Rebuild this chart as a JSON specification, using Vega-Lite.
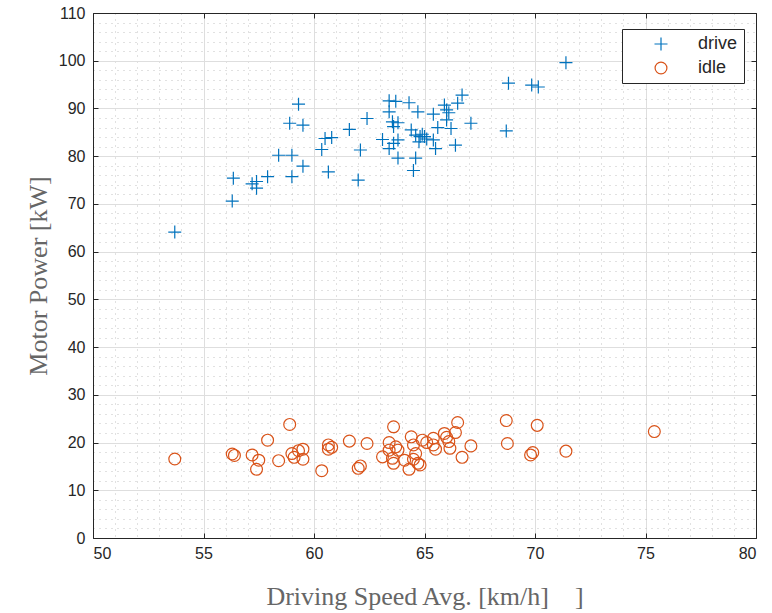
{
  "$schema": "https://vega.github.io/schema/vega-lite/v6.json",
  "width": 663,
  "height": 525,
  "autosize": "none",
  "padding": {"left": 93, "top": 13, "right": 16, "bottom": 75},
  "background": "white",
  "config": {
    "view": {"stroke": "#262626", "strokeWidth": 1},
    "axis": {
      "labelFont": "Liberation Sans",
      "labelFontSize": 16,
      "labelColor": "#262626",
      "titleFont": "Liberation Serif",
      "titleFontSize": 26,
      "titleFontWeight": "normal",
      "titleColor": "#666666",
      "domainColor": "#262626",
      "tickColor": "#262626"
    },
    "legend": {
      "labelFont": "Liberation Sans",
      "labelFontSize": 18,
      "labelColor": "#262626"
    }
  },
  "data": {
    "values": [
      {"speed": 53.7, "power": 64.1, "type": "drive"},
      {"speed": 56.3, "power": 70.6, "type": "drive"},
      {"speed": 56.35, "power": 75.4, "type": "drive"},
      {"speed": 57.2, "power": 74.2, "type": "drive"},
      {"speed": 57.4, "power": 74.7, "type": "drive"},
      {"speed": 57.4, "power": 73.3, "type": "drive"},
      {"speed": 57.9, "power": 75.7, "type": "drive"},
      {"speed": 58.4, "power": 80.2, "type": "drive"},
      {"speed": 59.0, "power": 80.2, "type": "drive"},
      {"speed": 59.0, "power": 75.7, "type": "drive"},
      {"speed": 59.5, "power": 77.9, "type": "drive"},
      {"speed": 58.9, "power": 86.9, "type": "drive"},
      {"speed": 59.5, "power": 86.5, "type": "drive"},
      {"speed": 59.3, "power": 90.9, "type": "drive"},
      {"speed": 60.35, "power": 81.4, "type": "drive"},
      {"speed": 60.65, "power": 76.7, "type": "drive"},
      {"speed": 60.5, "power": 83.7, "type": "drive"},
      {"speed": 60.8, "power": 83.9, "type": "drive"},
      {"speed": 61.6, "power": 85.6, "type": "drive"},
      {"speed": 62.4, "power": 87.9, "type": "drive"},
      {"speed": 62.1, "power": 81.3, "type": "drive"},
      {"speed": 62.0, "power": 75.0, "type": "drive"},
      {"speed": 63.1, "power": 83.5, "type": "drive"},
      {"speed": 63.4, "power": 91.6, "type": "drive"},
      {"speed": 63.7, "power": 91.5, "type": "drive"},
      {"speed": 63.4, "power": 89.3, "type": "drive"},
      {"speed": 63.55, "power": 87.2, "type": "drive"},
      {"speed": 63.8, "power": 87.0, "type": "drive"},
      {"speed": 63.6, "power": 86.2, "type": "drive"},
      {"speed": 63.4, "power": 81.6, "type": "drive"},
      {"speed": 63.6, "power": 82.7, "type": "drive"},
      {"speed": 63.8, "power": 83.4, "type": "drive"},
      {"speed": 63.8, "power": 79.6, "type": "drive"},
      {"speed": 64.3, "power": 91.2, "type": "drive"},
      {"speed": 64.7, "power": 89.3, "type": "drive"},
      {"speed": 64.4, "power": 85.5, "type": "drive"},
      {"speed": 64.6, "power": 84.4, "type": "drive"},
      {"speed": 64.8, "power": 84.1, "type": "drive"},
      {"speed": 65.0, "power": 84.1, "type": "drive"},
      {"speed": 64.75, "power": 83.0, "type": "drive"},
      {"speed": 64.9, "power": 84.6, "type": "drive"},
      {"speed": 65.1, "power": 83.6, "type": "drive"},
      {"speed": 65.4, "power": 83.4, "type": "drive"},
      {"speed": 65.5, "power": 81.6, "type": "drive"},
      {"speed": 64.6, "power": 79.6, "type": "drive"},
      {"speed": 64.5, "power": 77.0, "type": "drive"},
      {"speed": 65.4, "power": 88.8, "type": "drive"},
      {"speed": 65.6, "power": 86.0, "type": "drive"},
      {"speed": 65.9, "power": 90.7, "type": "drive"},
      {"speed": 66.0, "power": 89.7, "type": "drive"},
      {"speed": 66.1, "power": 89.1, "type": "drive"},
      {"speed": 66.0, "power": 87.6, "type": "drive"},
      {"speed": 66.2, "power": 85.8, "type": "drive"},
      {"speed": 66.4, "power": 82.3, "type": "drive"},
      {"speed": 66.5, "power": 91.1, "type": "drive"},
      {"speed": 66.7, "power": 92.8, "type": "drive"},
      {"speed": 67.1, "power": 86.9, "type": "drive"},
      {"speed": 68.8, "power": 95.3, "type": "drive"},
      {"speed": 68.7, "power": 85.3, "type": "drive"},
      {"speed": 69.85, "power": 94.9, "type": "drive"},
      {"speed": 70.15, "power": 94.5, "type": "drive"},
      {"speed": 71.4, "power": 99.6, "type": "drive"},
      {"speed": 53.7, "power": 16.55, "type": "idle"},
      {"speed": 56.3, "power": 17.6, "type": "idle"},
      {"speed": 56.4, "power": 17.3, "type": "idle"},
      {"speed": 57.2, "power": 17.4, "type": "idle"},
      {"speed": 57.5, "power": 16.3, "type": "idle"},
      {"speed": 57.4, "power": 14.4, "type": "idle"},
      {"speed": 57.9, "power": 20.5, "type": "idle"},
      {"speed": 58.4, "power": 16.2, "type": "idle"},
      {"speed": 58.9, "power": 23.8, "type": "idle"},
      {"speed": 59.0, "power": 17.7, "type": "idle"},
      {"speed": 59.1, "power": 16.9, "type": "idle"},
      {"speed": 59.3, "power": 18.3, "type": "idle"},
      {"speed": 59.5, "power": 18.6, "type": "idle"},
      {"speed": 59.5, "power": 16.5, "type": "idle"},
      {"speed": 60.35, "power": 14.1, "type": "idle"},
      {"speed": 60.65, "power": 19.5, "type": "idle"},
      {"speed": 60.65, "power": 18.6, "type": "idle"},
      {"speed": 60.8, "power": 19.0, "type": "idle"},
      {"speed": 61.6, "power": 20.3, "type": "idle"},
      {"speed": 62.4, "power": 19.8, "type": "idle"},
      {"speed": 62.0, "power": 14.6, "type": "idle"},
      {"speed": 62.1, "power": 15.1, "type": "idle"},
      {"speed": 63.6, "power": 23.3, "type": "idle"},
      {"speed": 63.4, "power": 20.0, "type": "idle"},
      {"speed": 63.4, "power": 18.4, "type": "idle"},
      {"speed": 63.1, "power": 17.0, "type": "idle"},
      {"speed": 63.7, "power": 19.1, "type": "idle"},
      {"speed": 63.8, "power": 18.4, "type": "idle"},
      {"speed": 63.55, "power": 16.7, "type": "idle"},
      {"speed": 63.6, "power": 15.65, "type": "idle"},
      {"speed": 64.1, "power": 16.3, "type": "idle"},
      {"speed": 64.4, "power": 21.2, "type": "idle"},
      {"speed": 64.5, "power": 19.5, "type": "idle"},
      {"speed": 64.6, "power": 17.7, "type": "idle"},
      {"speed": 64.5, "power": 16.5, "type": "idle"},
      {"speed": 64.3, "power": 14.4, "type": "idle"},
      {"speed": 64.7, "power": 15.65, "type": "idle"},
      {"speed": 64.8, "power": 15.3, "type": "idle"},
      {"speed": 64.9, "power": 20.5, "type": "idle"},
      {"speed": 65.1, "power": 20.0, "type": "idle"},
      {"speed": 65.4, "power": 20.9, "type": "idle"},
      {"speed": 65.5, "power": 18.6, "type": "idle"},
      {"speed": 65.4, "power": 19.5, "type": "idle"},
      {"speed": 65.9, "power": 21.9, "type": "idle"},
      {"speed": 66.0, "power": 21.1, "type": "idle"},
      {"speed": 66.15, "power": 18.8, "type": "idle"},
      {"speed": 66.1, "power": 20.2, "type": "idle"},
      {"speed": 66.4, "power": 22.1, "type": "idle"},
      {"speed": 66.5, "power": 24.2, "type": "idle"},
      {"speed": 66.7, "power": 16.9, "type": "idle"},
      {"speed": 67.1, "power": 19.3, "type": "idle"},
      {"speed": 68.7, "power": 24.6, "type": "idle"},
      {"speed": 68.75, "power": 19.8, "type": "idle"},
      {"speed": 69.8, "power": 17.4, "type": "idle"},
      {"speed": 69.9, "power": 17.9, "type": "idle"},
      {"speed": 70.1, "power": 23.6, "type": "idle"},
      {"speed": 71.4, "power": 18.2, "type": "idle"},
      {"speed": 75.4, "power": 22.3, "type": "idle"}
    ]
  },
  "layer": [
    {
      "mark": {"type": "point", "opacity": 0},
      "encoding": {
        "x": {"field": "speed", "type": "quantitative", "scale": {"domain": [50, 80], "nice": false, "zero": false},
          "axis": {"orient": "bottom", "values": [50,51,52,53,54,55,56,57,58,59,60,61,62,63,64,65,66,67,68,69,70,71,72,73,74,75,76,77,78,79,80], "grid": true, "gridDash": [1, 5], "gridColor": "#c2c2c2", "labels": false, "ticks": false, "domain": false, "title": null}},
        "y": {"field": "power", "type": "quantitative", "scale": {"domain": [0, 110], "nice": false, "zero": false},
          "axis": {"orient": "left", "values": [0,2,4,6,8,10,12,14,16,18,20,22,24,26,28,30,32,34,36,38,40,42,44,46,48,50,52,54,56,58,60,62,64,66,68,70,72,74,76,78,80,82,84,86,88,90,92,94,96,98,100,102,104,106,108,110], "grid": true, "gridDash": [1, 5], "gridColor": "#c2c2c2", "labels": false, "ticks": false, "domain": false, "title": null}}
      }
    },
    {
      "mark": {"type": "point", "opacity": 0},
      "encoding": {
        "x": {"field": "speed", "type": "quantitative",
          "axis": {"orient": "bottom", "values": [50,55,60,65,70,75,80], "grid": true, "gridColor": "#dedede", "tickSize": -5, "labelPadding": 12, "title": "Driving Speed Avg. [km/h]\u00a0\u00a0\u00a0\u00a0]", "titlePadding": 22}},
        "y": {"field": "power", "type": "quantitative",
          "axis": {"orient": "left", "values": [0,10,20,30,40,50,60,70,80,90,100,110], "grid": true, "gridColor": "#dedede", "tickSize": -5, "labelPadding": 13, "title": "Motor Power [kW]", "titlePadding": 7}}
      }
    },
    {
      "mark": {"type": "point", "opacity": 0},
      "encoding": {
        "x": {"field": "speed", "type": "quantitative",
          "axis": {"orient": "top", "values": [50,55,60,65,70,75,80], "grid": false, "tickSize": -5, "labels": false, "title": null}},
        "y": {"field": "power", "type": "quantitative",
          "axis": {"orient": "right", "values": [0,10,20,30,40,50,60,70,80,90,100,110], "grid": false, "tickSize": -5, "labels": false, "title": null}}
      }
    },
    {
      "mark": {"type": "point", "filled": false, "strokeWidth": 1.2, "opacity": 1, "size": 140},
      "encoding": {
        "x": {"field": "speed", "type": "quantitative", "axis": null},
        "y": {"field": "power", "type": "quantitative", "axis": null},
        "color": {"field": "type", "type": "nominal",
          "scale": {"domain": ["drive", "idle"], "range": ["#0072BD", "#D95319"]},
          "legend": {"title": null, "orient": "none", "legendX": 529, "legendY": 16, "strokeColor": "#262626", "fillColor": "white", "padding": 6, "rowPadding": 6, "symbolSize": 140, "symbolStrokeWidth": 1.2, "labelOffset": 28, "symbolOffset": 24}},
        "shape": {"field": "type", "type": "nominal",
          "scale": {"domain": ["drive", "idle"], "range": ["M-1.1,0L1.1,0M0,-1.1L0,1.1", "circle"]},
          "legend": {"title": null, "orient": "none", "legendX": 529, "legendY": 16}}
      }
    }
  ],
  "resolve": {"axis": {"x": "independent", "y": "independent"}}
}
